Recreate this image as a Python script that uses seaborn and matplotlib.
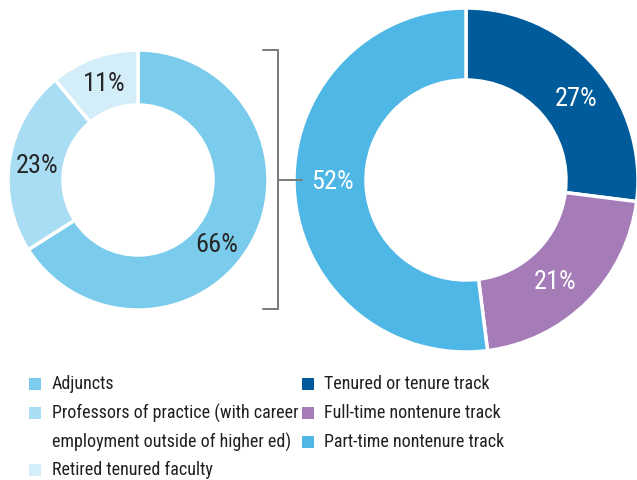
import matplotlib.pyplot as plt
import matplotlib.patches as mpatches
from matplotlib import font_manager
import seaborn as sns

# data
left_labels = ['Adjuncts', 'Professors of practice (with career\nemployment outside of higher ed)',
               'Retired tenured faculty']
left_values = [66, 23, 11]
left_colors = ['#7BCBEC', '#A8DDF4', '#D3EDF9']

right_labels = ['Tenured or tenure track', 'Full-time nontenure track', 'Part-time nontenure track']
right_values = [27, 21, 52]
right_colors = ['#005B9A', '#A57CB8', '#4FB7E6']

sns.set_theme(style='white')

# pick a narrow font if one is installed
names = {f.name for f in font_manager.fontManager.ttflist}
narrow = [n for n in ['Liberation Sans Narrow', 'Roboto Condensed', 'Open Sans Condensed',
                      'Noto Sans Condensed', 'DejaVu Sans Condensed'] if n in names]
if narrow:
    plt.rcParams['font.family'] = [narrow[0], 'DejaVu Sans']
    scale = 1.0
else:
    plt.rcParams['font.family'] = ['DejaVu Sans']
    plt.rcParams['font.stretch'] = 'condensed'
    scale = 0.9

W, H = 637, 480
fig = plt.figure(figsize=(W / 100, H / 100), dpi=100)
ax = fig.add_axes([0, 0, 1, 1])

# left donut (pixel coords, y flipped)
w1, t1, a1 = ax.pie(left_values, colors=left_colors, startangle=90, counterclock=False,
                    center=(138, H - 180), radius=130, autopct='%d%%', pctdistance=0.79,
                    wedgeprops=dict(width=55, edgecolor='white', linewidth=2.5),
                    textprops=dict(fontsize=19 * scale, color='#262626'))
for t, (x, y) in zip(a1, [(217, 245), (37, 166), (104, 84)]):
    t.set_position((x, H - y))

# right donut
w2, t2, a2 = ax.pie(right_values, colors=right_colors, startangle=90, counterclock=False,
                    center=(466, H - 180), radius=172, autopct='%d%%', pctdistance=0.79,
                    wedgeprops=dict(width=72, edgecolor='white', linewidth=2.5),
                    textprops=dict(fontsize=19 * scale, color='white'))
for t, (x, y) in zip(a2, [(576, 99), (555, 282), (332, 182)]):
    t.set_position((x, H - y))

# bracket
bc = '#7a7a7a'
ax.plot([263, 278, 278, 263], [H - 50, H - 50, H - 309, H - 309], color=bc, lw=1.4,
        solid_joinstyle='miter')
ax.plot([278, 302], [H - 180, H - 180], color=bc, lw=1.4)

# legends
fs = 13 * scale
for y, lab, col in zip([384, 413, 470], left_labels, left_colors):
    ax.add_patch(mpatches.Rectangle((29, H - y - 6), 12, 12, color=col, lw=0))
    ax.text(52, H - y, lab.split('\n')[0], fontsize=fs, color='#231F20', va='center')
    if '\n' in lab:
        ax.text(52, H - y - 29, lab.split('\n')[1], fontsize=fs, color='#231F20', va='center')

for y, lab, col in zip([384, 413, 442], right_labels, right_colors):
    ax.add_patch(mpatches.Rectangle((302, H - y - 6), 12, 12, color=col, lw=0))
    ax.text(324, H - y, lab, fontsize=fs, color='#231F20', va='center')

ax.set_xlim(0, W)
ax.set_ylim(0, H)
ax.set_aspect('auto')
ax.axis('off')

fig.savefig('out.png', dpi=100)
